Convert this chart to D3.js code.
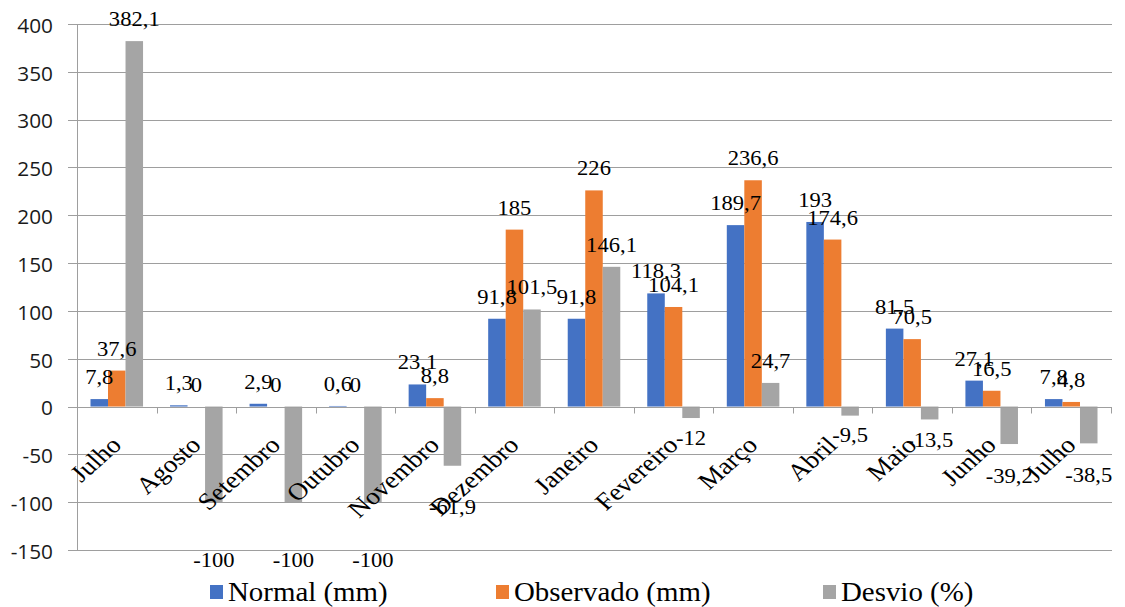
<!DOCTYPE html>
<html>
<head>
<meta charset="utf-8">
<script src="https://cdn.jsdelivr.net/npm/d3@7"></script>
<style>
  html, body { margin: 0; padding: 0; background: #fff; }
  svg { display: block; }
</style>
</head>
<body>
<svg id="chart" width="1125" height="607"></svg>
<script>
const categories = ["Julho", "Agosto", "Setembro", "Outubro", "Novembro", "Dezembro", "Janeiro", "Fevereiro", "Março", "Abril", "Maio", "Junho", "Julho"];
const normal = [7.8, 1.3, 2.9, 0.6, 23.1, 91.8, 91.8, 118.3, 189.7, 193, 81.5, 27.1, 7.8];
const observado = [37.6, 0, 0, 0, 8.8, 185, 226, 104.1, 236.6, 174.6, 70.5, 16.5, 4.8];
const desvio = [382.1, -100, -100, -100, -61.9, 101.5, 146.1, -12, 24.7, -9.5, -13.5, -39.2, -38.5];
const seriesNames = ["Normal (mm)", "Observado (mm)", "Desvio (%)"];
const yTicks = [-150, -100, -50, 0, 50, 100, 150, 200, 250, 300, 350, 400];

const seriesValues = [normal, observado, desvio];
const colors = ["#4472C4", "#ED7D31", "#A5A5A5"];
const SX = 1.13; // horizontal text stretch of the original picture
const SERIF = "'Liberation Serif', 'Times New Roman', Tinos, serif";

const svg = d3.select("#chart");
svg.append("rect").attr("width", 1125).attr("height", 607).attr("fill", "#fff");

const x = d3.scaleBand().domain(d3.range(categories.length)).range([77, 1111]).paddingInner(0).paddingOuter(0);
const xs = d3.scaleBand().domain(d3.range(3)).range([0, x.bandwidth()]).paddingInner(0).paddingOuter(0.77);
const y = d3.scaleLinear().domain([-150, 400]).range([550, 24]);

const fmt = v => String(v).replace(".", ",");

// gridlines
svg.append("g").selectAll("line").data(yTicks).join("line")
  .attr("x1", 68).attr("x2", 1112)
  .attr("y1", d => Math.round(y(d)) + 0.5).attr("y2", d => Math.round(y(d)) + 0.5)
  .attr("stroke", "#9e9e9e").attr("stroke-width", 1);

// y tick labels
svg.append("g").selectAll("text").data(yTicks).join("text")
  .attr("transform", d => `translate(53,${y(d) + 1}) scale(1.04,1)`)
  .attr("text-anchor", "end").attr("dominant-baseline", "central")
  .attr("font-family", "'Open Sans', sans-serif").attr("font-size", 20)
  .attr("fill", "#1a1a1a")
  .text(d => d);

// left axis
svg.append("line").attr("x1", 77.5).attr("x2", 77.5).attr("y1", y(400)).attr("y2", y(-150))
  .attr("stroke", "#9e9e9e");

// bars
const groups = svg.append("g").selectAll("g").data(d3.range(categories.length)).join("g")
  .attr("transform", i => `translate(${x(i)},0)`);
groups.selectAll("rect").data(i => seriesValues.map((s, k) => ({ k, v: s[i] }))).join("rect")
  .attr("x", d => xs(d.k)).attr("width", xs.bandwidth())
  .attr("y", d => y(Math.max(0, d.v)))
  .attr("height", d => Math.abs(y(d.v) - y(0)))
  .attr("fill", d => colors[d.k]);

// zero axis + ticks
const zeroY = Math.round(y(0)) + 0.5;
svg.append("line").attr("x1", 77).attr("x2", 1112).attr("y1", zeroY).attr("y2", zeroY).attr("stroke", "#9e9e9e");
svg.append("g").selectAll("line").data(d3.range(categories.length + 1)).join("line")
  .attr("x1", i => Math.round(77 + i * x.step()) + 0.5).attr("x2", i => Math.round(77 + i * x.step()) + 0.5)
  .attr("y1", zeroY).attr("y2", zeroY + 6).attr("stroke", "#9e9e9e");

// category labels
svg.append("g").selectAll("text").data(categories).join("text")
  .attr("transform", (d, i) => `translate(${x(i) + x.bandwidth() / 2 + 6},${y(0) + 40}) scale(${SX},1) rotate(-45)`)
  .attr("text-anchor", "end")
  .attr("font-family", SERIF).attr("font-size", 24)
  .attr("fill", "#000")
  .text(d => d);

// data labels
const labels = [];
categories.forEach((c, i) => seriesValues.forEach((s, k) => labels.push({ i, k, v: s[i] })));
svg.append("g").selectAll("text").data(labels).join("text")
  .attr("transform", d => {
    const cx = x(d.i) + xs(d.k) + xs.bandwidth() / 2;
    const by = d.v >= 0 ? y(d.v) - 15 : y(d.v) + 22 + 0.45 * (y(d.v) - y(0));
    return `translate(${cx},${by}) scale(${SX},1)`;
  })
  .attr("text-anchor", "middle")
  .attr("font-family", SERIF).attr("font-size", 20)
  .attr("fill", "#000")
  .text(d => fmt(d.v));

// legend
const legendX = [210, 496, 823];
const lg = svg.append("g").selectAll("g").data(seriesNames).join("g")
  .attr("transform", (d, k) => `translate(${legendX[k]},0)`);
lg.append("rect").attr("x", 0).attr("y", 585).attr("width", 13).attr("height", 14).attr("fill", (d, k) => colors[k]);
lg.append("text")
  .attr("transform", `translate(18,601) scale(1.07,1)`)
  .attr("font-family", SERIF).attr("font-size", 27)
  .attr("fill", "#000")
  .text(d => d);
</script>
</body>
</html>
